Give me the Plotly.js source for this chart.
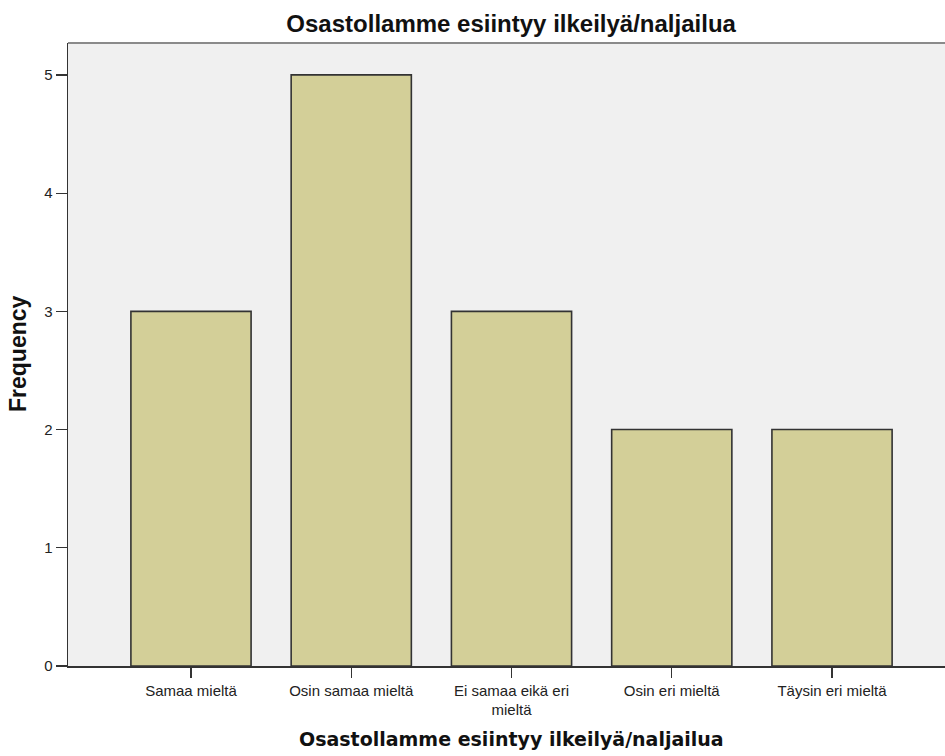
<!DOCTYPE html>
<html>
<head>
<meta charset="utf-8">
<script src="https://cdn.plot.ly/plotly-3.0.1.min.js"></script>
<style>html,body{margin:0;padding:0;background:#fff;}#chart{width:945px;height:756px;}</style>
</head>
<body>
<div id="chart"></div>
<script>
const categories = ["Samaa mieltä", "Osin samaa mieltä", "Ei samaa eikä eri<br>mieltä", "Osin eri mieltä", "Täysin eri mieltä"];
const frequencies = [3, 5, 3, 2, 2];
const yTicks = [0, 1, 2, 3, 4, 5];
const chartTitle = "Osastollamme esiintyy ilkeilyä/naljailua";
const xTitle = "Osastollamme esiintyy ilkeilyä/naljailua";
const yTitle = "Frequency";

const trace = {
  type: "bar",
  x: categories,
  y: frequencies,
  width: 0.75,
  marker: {color: "#D3CF98", line: {color: "#333333", width: 1.6}},
  hoverinfo: "x+y"
};

const layout = {
  width: 945, height: 756,
  margin: {l: 68, r: 0, t: 43, b: 90, pad: 0},
  paper_bgcolor: "#ffffff",
  plot_bgcolor: "#F0F0F0",
  showlegend: false,
  font: {family: "Liberation Sans, Arial, sans-serif", color: "#222222"},
  title: {
    text: chartTitle,
    font: {family: "Liberation Sans, Arial, sans-serif", size: 24, weight: "bold", color: "#111111"},
    x: 477.5/945, xref: "paper", xanchor: "center",
    y: 1 - 24/756, yref: "container", yanchor: "middle"
  },
  xaxis: {
    type: "category",
    range: [-0.7675, 4.705],
    showgrid: false, zeroline: false,
    showline: true, linecolor: "#333333", linewidth: 1.5,
    ticks: "outside", ticklen: 10, tickwidth: 1.2, tickcolor: "#333333",
    tickfont: {family: "Liberation Sans, Arial, sans-serif", size: 15, color: "#222222"},
    automargin: false, fixedrange: true
  },
  yaxis: {
    range: [0, 5.27],
    tickvals: yTicks,
    showgrid: false, zeroline: false,
    showline: true, linecolor: "#333333", linewidth: 1.5,
    ticks: "outside", ticklen: 11, tickwidth: 1.2, tickcolor: "#333333",
    tickfont: {family: "Liberation Sans, Arial, sans-serif", size: 15, color: "#222222"},
    automargin: false, fixedrange: true
  },
  shapes: [
    {type: "line", xref: "paper", yref: "paper", x0: 0, x1: 1, y0: 1, y1: 1,
     line: {color: "#8a8a8a", width: 2}}
  ],
  annotations: [
    {text: xTitle, xref: "x", x: 2, yref: "paper", y: -(739-666)/623, yanchor: "middle", xanchor: "center",
     showarrow: false, font: {family: "DejaVu Sans, sans-serif", size: 19, weight: "bold", color: "#111111"}},
    {text: yTitle, xref: "paper", x: (18-68)/877, xanchor: "center", yref: "paper", y: (666-354)/623, yanchor: "middle",
     textangle: -90, showarrow: false, font: {family: "Liberation Sans, Arial, sans-serif", size: 23, weight: "bold", color: "#111111"}}
  ]
};

Plotly.newPlot("chart", [trace], layout, {displayModeBar: false, staticPlot: true});
</script>
</body>
</html>
